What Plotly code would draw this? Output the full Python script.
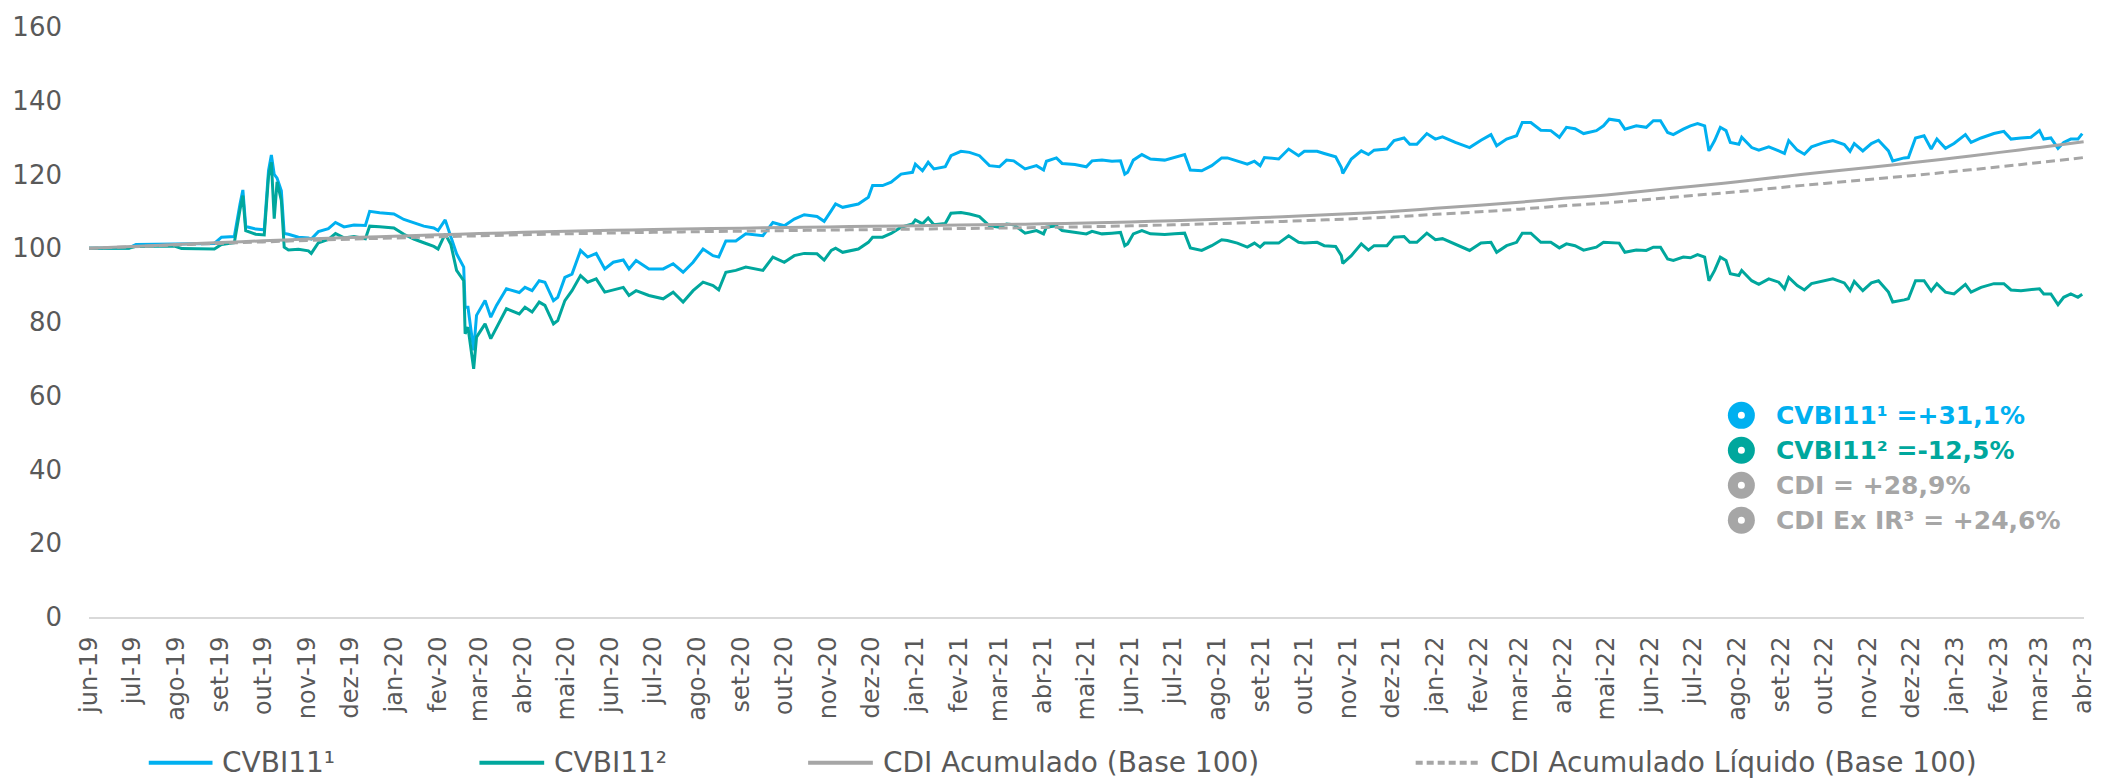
import plotly.graph_objects as go

# ---------------- DATA ----------------
dates = [
    "2019-06-01", "2019-06-29", "2019-07-04", "2019-07-31", "2019-08-05", "2019-08-28",
    "2019-09-02", "2019-09-11", "2019-09-15", "2019-09-17", "2019-09-19", "2019-09-26",
    "2019-10-02", "2019-10-05", "2019-10-07", "2019-10-09", "2019-10-11", "2019-10-14",
    "2019-10-16", "2019-10-19", "2019-10-26", "2019-11-02", "2019-11-04", "2019-11-09",
    "2019-11-16", "2019-11-21", "2019-11-27", "2019-12-04", "2019-12-12", "2019-12-15",
    "2019-12-22", "2020-01-01", "2020-01-08", "2020-01-15", "2020-01-22", "2020-01-29",
    "2020-02-01", "2020-02-06", "2020-02-10", "2020-02-14", "2020-02-19", "2020-02-20",
    "2020-02-22", "2020-02-26", "2020-02-28", "2020-03-05", "2020-03-09", "2020-03-13",
    "2020-03-20", "2020-03-29", "2020-04-02", "2020-04-07", "2020-04-12", "2020-04-16",
    "2020-04-22", "2020-04-25", "2020-04-30", "2020-05-05", "2020-05-11", "2020-05-16",
    "2020-05-22", "2020-05-28", "2020-06-03", "2020-06-10", "2020-06-14", "2020-06-19",
    "2020-06-28", "2020-07-08", "2020-07-15", "2020-07-22", "2020-07-29", "2020-08-05",
    "2020-08-12", "2020-08-16", "2020-08-21", "2020-08-28", "2020-09-04", "2020-09-16",
    "2020-09-23", "2020-10-01", "2020-10-08", "2020-10-15", "2020-10-24", "2020-10-29",
    "2020-11-03", "2020-11-06", "2020-11-11", "2020-11-22", "2020-11-29", "2020-12-02",
    "2020-12-09", "2020-12-15", "2020-12-22", "2020-12-30", "2021-01-01", "2021-01-06",
    "2021-01-10", "2021-01-14", "2021-01-22", "2021-01-26", "2021-02-02", "2021-02-08",
    "2021-02-15", "2021-02-22", "2021-03-01", "2021-03-06", "2021-03-11", "2021-03-19",
    "2021-03-27", "2021-04-01", "2021-04-03", "2021-04-10", "2021-04-14", "2021-04-23",
    "2021-05-01", "2021-05-05", "2021-05-12", "2021-05-19", "2021-05-25", "2021-05-28",
    "2021-05-30", "2021-06-03", "2021-06-09", "2021-06-15", "2021-06-25", "2021-07-02",
    "2021-07-09", "2021-07-13", "2021-07-21", "2021-07-28", "2021-08-04", "2021-08-08",
    "2021-08-15", "2021-08-22", "2021-08-27", "2021-08-31", "2021-09-03", "2021-09-13",
    "2021-09-20", "2021-09-27", "2021-10-01", "2021-10-10", "2021-10-15", "2021-10-23",
    "2021-10-27", "2021-10-28", "2021-11-03", "2021-11-10", "2021-11-15", "2021-11-19",
    "2021-11-28", "2021-12-03", "2021-12-10", "2021-12-14", "2021-12-19", "2021-12-26",
    "2022-01-01", "2022-01-06", "2022-01-15", "2022-01-25", "2022-02-02", "2022-02-09",
    "2022-02-13", "2022-02-20", "2022-02-27", "2022-03-03", "2022-03-09", "2022-03-16",
    "2022-03-23", "2022-03-29", "2022-04-03", "2022-04-09", "2022-04-15", "2022-04-24",
    "2022-04-29", "2022-05-03", "2022-05-10", "2022-05-14", "2022-05-22", "2022-05-29",
    "2022-06-03", "2022-06-08", "2022-06-13", "2022-06-17", "2022-06-24", "2022-06-29",
    "2022-07-04", "2022-07-09", "2022-07-12", "2022-07-16", "2022-07-20", "2022-07-24",
    "2022-07-27", "2022-08-02", "2022-08-04", "2022-08-11", "2022-08-16", "2022-08-23",
    "2022-08-30", "2022-09-03", "2022-09-06", "2022-09-12", "2022-09-17", "2022-09-22",
    "2022-10-01", "2022-10-07", "2022-10-15", "2022-10-19", "2022-10-22", "2022-10-28",
    "2022-11-03", "2022-11-08", "2022-11-15", "2022-11-18", "2022-11-26", "2022-11-29",
    "2022-12-04", "2022-12-10", "2022-12-15", "2022-12-19", "2022-12-25", "2022-12-31",
    "2023-01-08", "2023-01-12", "2023-01-19", "2023-01-28", "2023-02-04", "2023-02-09",
    "2023-02-16", "2023-02-23", "2023-03-01", "2023-03-04", "2023-03-09", "2023-03-14",
    "2023-03-18", "2023-03-23", "2023-03-28", "2023-03-31",
]

cvbi11_1 = [
    100.0, 100.1, 101.0, 101.1, 101.2, 101.3,
    103.0, 103.2, 112.0, 115.8, 105.9, 105.2,
    105.0, 121.0, 125.3, 120.0, 119.0, 115.6,
    104.0, 103.8, 103.0, 102.8, 102.5, 104.5,
    105.3, 107.0, 105.8, 106.3, 106.2, 110.0,
    109.6, 109.3, 107.8, 107.0, 106.0, 105.5,
    104.8, 107.7, 103.0, 98.5, 94.9, 84.0,
    84.0, 72.3, 81.8, 85.8, 81.3, 84.5,
    89.0, 88.0, 89.4, 88.5, 91.2, 90.8,
    85.8, 86.7, 92.1, 93.0, 99.4, 97.6,
    98.6, 94.4, 96.2, 96.8, 94.4, 96.7,
    94.4, 94.4, 95.8, 93.5, 96.2, 99.8,
    98.0, 97.6, 102.0, 102.0, 103.9, 103.4,
    107.0, 106.1, 107.9, 109.1, 108.6, 107.3,
    110.2, 112.0, 111.1, 112.0, 113.8, 117.0,
    117.0, 117.9, 120.1, 120.6, 122.8, 121.0,
    123.3, 121.5, 122.1, 125.1, 126.3, 126.0,
    125.1, 122.4, 122.1, 123.9, 123.7, 121.5,
    122.4, 121.2, 123.6, 124.5, 123.0, 122.7,
    122.1, 123.7, 123.9, 123.6, 123.7, 120.1,
    120.6, 123.9, 125.4, 124.2, 123.9, 124.6,
    125.4, 121.2, 121.0, 122.4, 124.5, 124.5,
    123.7, 122.8, 123.6, 122.4, 124.6, 124.2,
    126.9, 125.1, 126.3, 126.3, 125.7, 124.8,
    121.9, 120.3, 124.2, 126.4, 125.4, 126.6,
    126.9, 129.2, 129.9, 128.2, 128.2, 131.1,
    129.6, 130.2, 128.7, 127.3, 129.3, 130.8,
    127.8, 129.6, 130.5, 134.1, 134.1, 132.0,
    131.9, 130.1, 132.8, 132.4, 131.1, 131.9,
    133.2, 135.0, 134.6, 132.3, 133.2, 132.8,
    134.6, 134.6, 131.4, 130.8, 132.3, 133.2,
    133.8, 133.2, 126.4, 129.2, 132.8, 131.9,
    128.7, 128.2, 130.1, 127.3, 126.6, 127.5,
    126.4, 125.7, 129.2, 126.6, 125.5, 127.5,
    128.7, 129.2, 128.1, 126.3, 128.4, 126.4,
    128.4, 129.3, 126.4, 123.7, 124.5, 124.6,
    129.9, 130.5, 126.9, 129.6, 127.1, 128.4,
    130.8, 128.7, 129.9, 131.1, 131.7, 129.6,
    129.9, 130.1, 131.9, 129.6, 129.9, 127.1,
    128.7, 129.6, 129.6, 131.1,
]

cvbi11_2 = [
    100.0, 100.0, 100.5, 100.6, 99.9, 99.8,
    101.0, 101.5, 110.5, 114.3, 104.8, 103.8,
    103.6, 119.5, 123.3, 108.0, 118.0, 113.0,
    100.3, 99.5, 99.7, 99.3, 98.6, 101.5,
    102.4, 104.0, 102.8, 103.2, 102.6, 106.0,
    105.8, 105.5, 103.8, 102.5, 101.5, 100.5,
    99.8, 103.9, 101.0, 94.0, 91.2, 76.8,
    78.6, 67.3, 75.9, 79.5, 75.5, 78.6,
    83.6, 82.2, 84.0, 82.7, 85.4, 84.5,
    79.5, 80.4, 85.8, 88.5, 92.6, 90.8,
    91.7, 88.1, 88.7, 89.4, 87.2, 88.5,
    87.2, 86.3, 88.1, 85.4, 88.5, 90.8,
    89.9, 88.7, 93.5, 94.0, 94.9, 94.0,
    97.6, 96.2, 98.0, 98.6, 98.5, 96.8,
    99.4, 100.0, 98.9, 99.8, 101.6, 103.0,
    103.0, 104.0, 105.7, 106.6, 107.7, 106.6,
    108.2, 106.4, 106.7, 109.5, 109.7, 109.3,
    108.6, 106.1, 105.7, 106.6, 106.4, 104.1,
    104.8, 103.9, 105.7, 106.1, 104.8, 104.3,
    103.9, 104.6, 103.9, 104.1, 104.3, 100.7,
    101.2, 103.9, 104.8, 103.9, 103.7, 103.9,
    104.1, 100.1, 99.4, 100.7, 102.3, 102.1,
    101.4, 100.3, 101.4, 100.3, 101.4, 101.4,
    103.4, 101.6, 101.4, 101.6, 100.7, 100.5,
    98.0, 95.9, 98.0, 101.2, 99.5, 100.7,
    100.7, 103.0, 103.2, 101.6, 101.6, 104.1,
    102.3, 102.6, 101.0, 99.4, 101.4, 101.6,
    98.9, 100.7, 101.6, 104.1, 104.1, 101.6,
    101.6, 100.1, 101.2, 100.7, 99.5, 100.3,
    101.6, 101.6, 101.4, 98.9, 99.5, 99.4,
    100.3, 100.3, 97.1, 96.7, 97.6, 97.4,
    98.3, 97.6, 91.2, 94.0, 97.6, 96.7,
    93.1, 92.6, 94.0, 91.2, 90.2, 91.7,
    90.8, 89.0, 92.1, 89.9, 88.7, 90.4,
    91.2, 91.7, 90.6, 88.5, 91.0, 88.5,
    90.6, 91.2, 88.1, 85.4, 86.0, 86.3,
    91.2, 91.2, 88.4, 90.4, 88.1, 87.6,
    90.2, 88.1, 89.4, 90.4, 90.4, 88.7,
    88.5, 88.7, 89.0, 87.6, 87.6, 84.7,
    86.7, 87.6, 86.7, 87.5,
]

month_dates = [
    "2019-06-01", "2019-07-01", "2019-08-01", "2019-09-01", "2019-10-01", "2019-11-01",
    "2019-12-01", "2020-01-01", "2020-02-01", "2020-03-01", "2020-04-01", "2020-05-01",
    "2020-06-01", "2020-07-01", "2020-08-01", "2020-09-01", "2020-10-01", "2020-11-01",
    "2020-12-01", "2021-01-01", "2021-02-01", "2021-03-01", "2021-04-01", "2021-05-01",
    "2021-06-01", "2021-07-01", "2021-08-01", "2021-09-01", "2021-10-01", "2021-11-01",
    "2021-12-01", "2022-01-01", "2022-02-01", "2022-03-01", "2022-04-01", "2022-05-01",
    "2022-06-01", "2022-07-01", "2022-08-01", "2022-09-01", "2022-10-01", "2022-11-01",
    "2022-12-01", "2023-01-01", "2023-02-01", "2023-03-01", "2023-04-01",
]

cdi_acumulado = [
    100.00, 100.47, 101.04, 101.55, 102.02, 102.51, 102.90, 103.28, 103.67, 103.97,
    104.32, 104.61, 104.86, 105.08, 105.28, 105.45, 105.62, 105.79, 105.95, 106.12,
    106.28, 106.42, 106.63, 106.85, 107.14, 107.47, 107.86, 108.32, 108.80, 109.33,
    109.97, 110.82, 111.63, 112.48, 113.53, 114.47, 115.65, 116.83, 118.03, 119.41,
    120.69, 121.92, 123.16, 124.54, 126.00, 127.35, 128.90,
]

cdi_liquido = [
    100.00, 100.40, 100.88, 101.32, 101.72, 102.13, 102.47, 102.79, 103.12, 103.37,
    103.67, 103.92, 104.13, 104.32, 104.49, 104.63, 104.78, 104.92, 105.06, 105.20,
    105.34, 105.46, 105.64, 105.82, 106.07, 106.35, 106.68, 107.07, 107.48, 107.93,
    108.47, 109.20, 109.89, 110.61, 111.50, 112.30, 113.30, 114.31, 115.33, 116.50,
    117.59, 118.63, 119.69, 120.86, 122.10, 123.25, 124.60,
]

tick_labels = [
    "jun-19", "jul-19", "ago-19", "set-19", "out-19", "nov-19", "dez-19",
    "jan-20", "fev-20", "mar-20", "abr-20", "mai-20", "jun-20", "jul-20", "ago-20",
    "set-20", "out-20", "nov-20", "dez-20",
    "jan-21", "fev-21", "mar-21", "abr-21", "mai-21", "jun-21", "jul-21", "ago-21",
    "set-21", "out-21", "nov-21", "dez-21",
    "jan-22", "fev-22", "mar-22", "abr-22", "mai-22", "jun-22", "jul-22", "ago-22",
    "set-22", "out-22", "nov-22", "dez-22",
    "jan-23", "fev-23", "mar-23", "abr-23",
]

series_names = ["CVBI11¹", "CVBI11²", "CDI Acumulado (Base 100)", "CDI Acumulado Líquido (Base 100)"]
summary_labels = ["CVBI11¹ =+31,1%", "CVBI11² =-12,5%", "CDI = +28,9%", "CDI Ex IR³ = +24,6%"]

# ---------------- STYLE ----------------
BLUE = "#00B0F0"
TEAL = "#00A79D"
GREY = "#A6A6A6"
TEXT = "#595959"
FONT = "DejaVu Sans"

W, H = 2109, 783
# plot area in page pixels: x 89..2092, y 26..617
L, T = 89, 26
R = W - 2092
B = H - 617
PW, PH = W - L - R, H - T - B


def px(xpage):
    return (xpage - L) / PW


def py(ypage):
    return (H - B - ypage) / PH


fig = go.Figure()
fig.add_trace(go.Scatter(x=dates, y=cvbi11_1, name=series_names[0], mode="lines",
                         line=dict(color=BLUE, width=3)))
fig.add_trace(go.Scatter(x=dates, y=cvbi11_2, name=series_names[1], mode="lines",
                         line=dict(color=TEAL, width=3)))
fig.add_trace(go.Scatter(x=month_dates, y=cdi_acumulado, name=series_names[2], mode="lines",
                         line=dict(color=GREY, width=3, shape="spline")))
fig.add_trace(go.Scatter(x=month_dates, y=cdi_liquido, name=series_names[3], mode="lines",
                         line=dict(color=GREY, width=3, dash="9px,5px", shape="spline")))

shapes = []
annotations = []

# custom bottom legend (line sample + label)
legend_y = py(763)
leg_items = [
    (149, 213, BLUE, "solid", series_names[0]),
    (481, 546, TEAL, "solid", series_names[1]),
    (811, 876, GREY, "solid", series_names[2]),
    (1421, 1486, GREY, "7px,4px", series_names[3]),
]
for x0, x1, col, dash, name in leg_items:
    shapes.append(dict(type="line", xref="paper", yref="paper",
                       x0=px(x0), x1=px(x1), y0=legend_y, y1=legend_y,
                       line=dict(color=col, width=4, dash=dash)))
    annotations.append(dict(xref="paper", yref="paper", x=px(x1 + 8), y=legend_y,
                            xanchor="left", yanchor="middle", showarrow=False,
                            text=name, font=dict(family=FONT, size=28, color=TEXT)))

# summary box on right
summary_colors = [BLUE, TEAL, GREY, GREY]
summary_y = [415, 450, 485, 520]
for lab, col, yy in zip(summary_labels, summary_colors, summary_y):
    shapes.append(dict(type="circle", xref="paper", yref="paper",
                       xsizemode="pixel", ysizemode="pixel",
                       xanchor=px(1748), yanchor=py(yy),
                       x0=-13.5, x1=13.5, y0=-13.5, y1=13.5,
                       fillcolor=col, line=dict(width=0)))
    shapes.append(dict(type="circle", xref="paper", yref="paper",
                       xsizemode="pixel", ysizemode="pixel",
                       xanchor=px(1748), yanchor=py(yy),
                       x0=-3.5, x1=3.5, y0=-3.5, y1=3.5,
                       fillcolor="white", line=dict(width=0)))
    annotations.append(dict(xref="paper", yref="paper", x=px(1781), y=py(yy),
                            xanchor="left", yanchor="middle", showarrow=False,
                            text="<b>" + lab + "</b>",
                            font=dict(family=FONT, size=25, color=col)))

fig.update_layout(
    width=W, height=H,
    margin=dict(l=L, r=R, t=T, b=B, pad=0),
    plot_bgcolor="white", paper_bgcolor="white",
    showlegend=False,
    shapes=shapes, annotations=annotations,
    font=dict(family=FONT, color=TEXT),
)
fig.update_xaxes(
    type="date", range=[month_dates[0], "2023-04-01 06:00"],
    tickmode="array", tickvals=month_dates, ticktext=tick_labels,
    tickangle=-90, tickfont=dict(family=FONT, size=24, color=TEXT),
    showgrid=False, showline=True, linecolor="#D9D9D9", linewidth=2,
    ticks="", ticklabelstandoff=8, zeroline=False,
)
fig.update_yaxes(
    range=[0, 160], tickmode="array", tickvals=[0, 20, 40, 60, 80, 100, 120, 140, 160],
    tickfont=dict(family=FONT, size=26, color=TEXT),
    showgrid=False, showline=False, zeroline=False, ticks="", ticklabelstandoff=26,
)

fig.write_html(
    "out.html",
    config={"displayModeBar": False},
    post_script="document.body.style.margin='0px';document.body.style.overflow='hidden';",
)
